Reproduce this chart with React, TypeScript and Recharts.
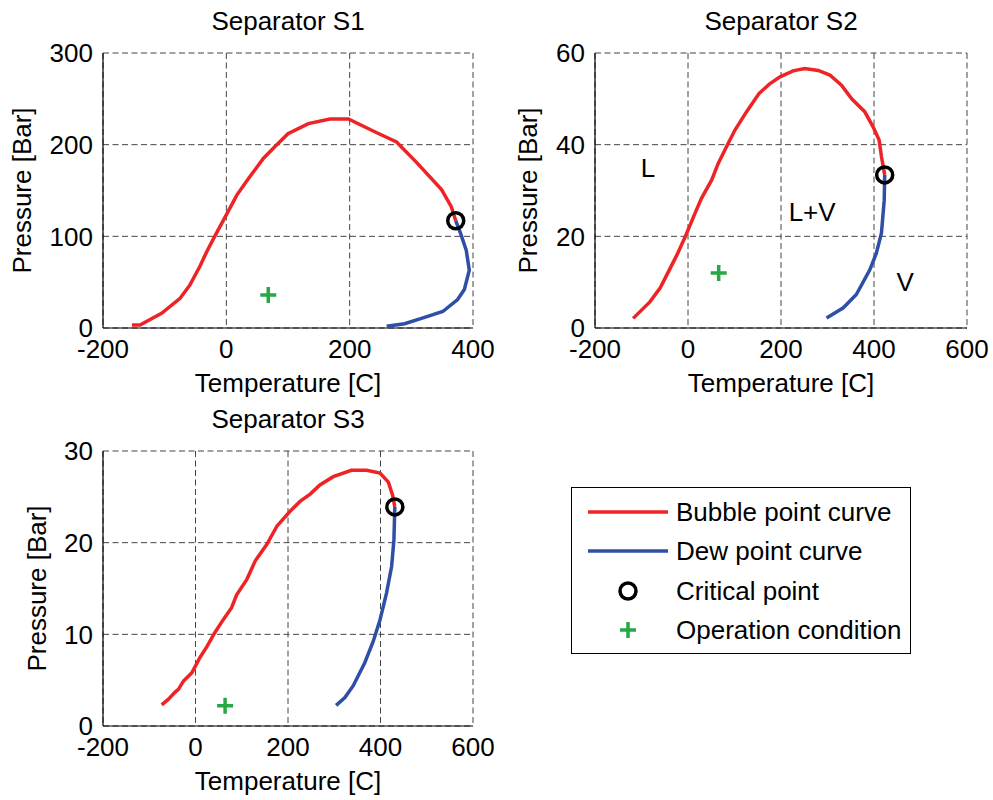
import React from "react";
import { ScatterChart, Scatter, XAxis, YAxis, CartesianGrid, ReferenceDot } from "recharts";

// [temperature C, pressure bar]
type Pt = [number, number];

const s1Bubble: Pt[] = [[-153, 3.3], [-140, 3.3], [-105, 16], [-75, 32.4], [-59, 47], [-43, 67], [-32, 83], [-18, 101], [-2, 121], [17, 145], [36, 163], [60, 185], [79, 198], [100, 212], [133, 223], [168, 228], [198, 228], [244, 213], [276, 203], [308, 181], [349, 151], [365, 132], [372, 117]];
const s1Dew: Pt[] = [[372, 117], [380, 103], [389, 85], [394, 63], [386, 42], [375, 31], [351, 18], [319, 11], [289, 4.7], [260, 1.8]];
const s1Critical: Pt[] = [[372, 117]];
const s1Operation: Pt[] = [[68, 36]];

const s2Bubble: Pt[] = [[-118, 2.1], [-82, 5.7], [-60, 8.7], [-42, 12.3], [-24, 15.9], [-6, 19.9], [15, 25], [29, 28.3], [51, 32.3], [65, 35.9], [83, 39.6], [101, 43.2], [126, 47.2], [153, 51.2], [175, 53.2], [198, 54.8], [226, 56.1], [251, 56.6], [280, 56.2], [305, 55.2], [330, 53], [352, 50], [380, 47.2], [398, 43.9], [411, 41], [416, 37.4], [423, 33.4]];
const s2Dew: Pt[] = [[423, 33.4], [422, 27.9], [416, 20.7], [405, 16.3], [391, 12.7], [362, 7.3], [334, 4.4], [298, 2.2]];
const s2Critical: Pt[] = [[423, 33.4]];
const s2Operation: Pt[] = [[66, 12]];
const s2Regions: { text: string; t: number; p: number }[] = [
  { text: "L", t: -86, p: 35 },
  { text: "L+V", t: 267, p: 25.3 },
  { text: "V", t: 467, p: 10 },
];

const s3Bubble: Pt[] = [[-73, 2.3], [-59, 2.9], [-44, 3.7], [-37, 4.0], [-26, 4.9], [-8, 5.8], [10, 7.5], [24, 8.6], [42, 10.2], [60, 11.6], [78, 12.9], [89, 14.3], [111, 16], [129, 18], [154, 19.8], [176, 21.8], [204, 23.4], [226, 24.5], [248, 25.3], [269, 26.3], [298, 27.2], [337, 27.9], [370, 27.9], [399, 27.6], [417, 26.6], [426, 25.2], [431, 23.9]];
const s3Dew: Pt[] = [[431, 23.9], [429, 20.3], [424, 17.4], [413, 14.5], [399, 11.6], [384, 9.2], [366, 6.9], [341, 4.4], [323, 3.1], [304, 2.25]];
const s3Critical: Pt[] = [[431, 23.9]];
const s3Operation: Pt[] = [[64, 2.2]];

const s1XTicks = [-200, 0, 200, 400];
const s1YTicks = [0, 100, 200, 300];
const s2XTicks = [-200, 0, 200, 400, 600];
const s2YTicks = [0, 20, 40, 60];
const s3XTicks = [-200, 0, 200, 400, 600];
const s3YTicks = [0, 10, 20, 30];

const legendItems = ["Bubble point curve", "Dew point curve", "Critical point", "Operation condition"];

const FONT = '"Liberation Sans", Arial, Helvetica, sans-serif';
const FS = 26;
const RED = "#ee2326";
const BLUE = "#2f4ea6";
const GREEN = "#27a844";

const rows = (pts: Pt[]) => pts.map(([t, p]) => ({ t, p }));
const noDot = () => <g />;
const ring = (props: any) => <circle cx={props.cx} cy={props.cy} r={8} fill="none" stroke="#000" strokeWidth={3.5} />;
const plus = (props: any) => (
  <path d={`M${props.cx - 8},${props.cy}H${props.cx + 8}M${props.cx},${props.cy - 8}V${props.cy + 8}`} stroke={GREEN} strokeWidth={3.5} />
);

type PanelProps = {
  title: string;
  left: number;
  top: number;
  width: number;
  marginTop: number;
  marginRight: number;
  yLabelX: number;
  xTicks: number[];
  yTicks: number[];
  bubble: Pt[];
  dew: Pt[];
  critical: Pt[];
  operation: Pt[];
  regions?: { text: string; t: number; p: number }[];
};

function Panel(p: PanelProps) {
  const tick = { fill: "#000", fontSize: FS, fontFamily: FONT };
  const plotW = p.width - 103 - p.marginRight;
  const xAxisH = 400 - p.marginTop - 275;
  return (
    <div style={{ position: "absolute", left: p.left, top: p.top, width: p.width, height: 400 }}>
      <div style={{ position: "absolute", left: 103, width: plotW, top: p.marginTop - 47, textAlign: "center", fontFamily: FONT, fontSize: FS, color: "#000", lineHeight: "30px" }}>
        {p.title}
      </div>
      <ScatterChart width={p.width} height={400} margin={{ top: p.marginTop, right: p.marginRight, bottom: 0, left: 0 }}>
        <CartesianGrid stroke="#444" strokeDasharray="6 3.5" horizontalValues={p.yTicks} verticalValues={p.xTicks} />
        <XAxis
          type="number"
          dataKey="t"
          domain={[p.xTicks[0], p.xTicks[p.xTicks.length - 1]]}
          ticks={p.xTicks}
          interval={0}
          allowDataOverflow
          height={xAxisH}
          tickLine={false}
          tickSize={0}
          tickMargin={12}
          axisLine={{ stroke: "#000", strokeWidth: 1.2 }}
          tick={tick}
          label={{ value: "Temperature [C]", position: "insideBottom", offset: xAxisH - 64, fill: "#000", fontSize: FS, fontFamily: FONT }}
        />
        <YAxis
          type="number"
          dataKey="p"
          domain={[p.yTicks[0], p.yTicks[p.yTicks.length - 1]]}
          ticks={p.yTicks}
          interval={0}
          allowDataOverflow
          width={103}
          tickLine={false}
          tickSize={0}
          tickMargin={10}
          axisLine={{ stroke: "#000", strokeWidth: 1.2 }}
          tick={tick}
          label={{ value: "Pressure [Bar]", angle: -90, position: "insideLeft", offset: p.yLabelX, fill: "#000", fontSize: FS, fontFamily: FONT, style: { textAnchor: "middle" } }}
        />
        <Scatter data={rows(p.bubble)} fill={RED} line={{ stroke: RED, strokeWidth: 3.5 }} lineType="joint" shape={noDot} isAnimationActive={false} />
        <Scatter data={rows(p.dew)} fill={BLUE} line={{ stroke: BLUE, strokeWidth: 3.5 }} lineType="joint" shape={noDot} isAnimationActive={false} />
        <Scatter data={rows(p.critical)} shape={ring} isAnimationActive={false} />
        <Scatter data={rows(p.operation)} shape={plus} isAnimationActive={false} />
        {(p.regions || []).map((r) => (
          <ReferenceDot
            key={r.text}
            x={r.t}
            y={r.p}
            r={0}
            fill="none"
            stroke="none"
            label={{ value: r.text, position: "center", fill: "#000", fontSize: FS, fontFamily: FONT }}
          />
        ))}
      </ScatterChart>
    </div>
  );
}

function LegendBox() {
  return (
    <div style={{ position: "absolute", left: 571, top: 487, width: 338, height: 165, border: "1.5px solid #000", background: "#fff", fontFamily: FONT, fontSize: FS, color: "#000" }}>
      {legendItems.map((name, i) => (
        <div key={name} style={{ position: "absolute", left: 0, top: 9 + i * 39.3, height: 30, width: 338 }}>
          <svg width={100} height={30} style={{ position: "absolute", left: 0, top: 0 }}>
            {i === 0 && <line x1={16} x2={96} y1={15} y2={15} stroke={RED} strokeWidth={3.5} />}
            {i === 1 && <line x1={16} x2={96} y1={15} y2={15} stroke={BLUE} strokeWidth={3.5} />}
            {i === 2 && <circle cx={56} cy={15} r={8} fill="none" stroke="#000" strokeWidth={3.5} />}
            {i === 3 && <path d="M48,15H64M56,7V23" stroke={GREEN} strokeWidth={3.5} />}
          </svg>
          <span style={{ position: "absolute", left: 104, top: 0, lineHeight: "30px", whiteSpace: "nowrap" }}>{name}</span>
        </div>
      ))}
    </div>
  );
}

export default function App() {
  return (
    <div style={{ position: "fixed", left: 0, top: 0, width: 993, height: 800, background: "#fff", overflow: "hidden" }}>
      <Panel title="Separator S1" left={0} top={0} width={520} marginTop={53} marginRight={47} yLabelX={22} xTicks={s1XTicks} yTicks={s1YTicks} bubble={s1Bubble} dew={s1Dew} critical={s1Critical} operation={s1Operation} />
      <Panel title="Separator S2" left={492} top={0} width={501} marginTop={53} marginRight={26} yLabelX={36} xTicks={s2XTicks} yTicks={s2YTicks} bubble={s2Bubble} dew={s2Dew} critical={s2Critical} operation={s2Operation} regions={s2Regions} />
      <Panel title="Separator S3" left={0} top={400} width={520} marginTop={51} marginRight={47} yLabelX={37} xTicks={s3XTicks} yTicks={s3YTicks} bubble={s3Bubble} dew={s3Dew} critical={s3Critical} operation={s3Operation} />
      <LegendBox />
    </div>
  );
}
